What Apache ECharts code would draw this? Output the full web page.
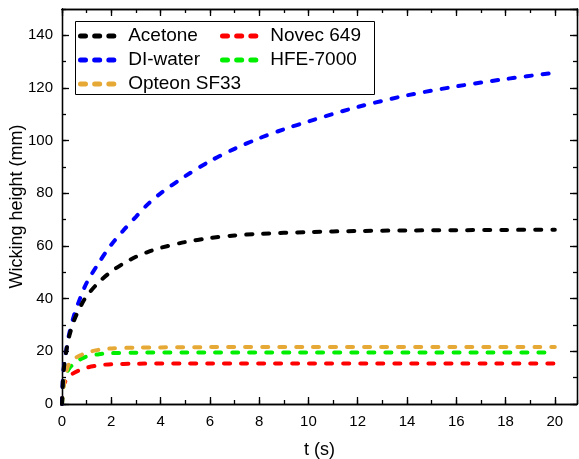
<!DOCTYPE html>
<html>
<head>
<meta charset="utf-8">
<script src="https://cdn.jsdelivr.net/npm/echarts@6/dist/echarts.min.js"></script>
<style>html,body{margin:0;padding:0;background:#fff;}#c{width:579px;height:459px;}</style>
</head>
<body>
<div id="c"></div>
<script>
var seriesNames = ['Acetone', 'DI-water', 'Opteon SF33', 'Novec 649', 'HFE-7000'];
var seriesColors = ['#000000', '#0000ff', '#e6a935', '#ff0000', '#00ee00'];

var acetoneT = [0, 0.05, 0.1, 0.2, 0.3, 0.5, 0.75, 1, 1.5, 2, 2.5, 3, 3.5, 4, 5, 6, 7, 8, 10, 12, 14, 16, 18, 20];
var acetoneH = [0, 11, 15.5, 21.5, 26, 32, 37, 41, 46.3, 50.3, 53.4, 55.9, 57.8, 59.3, 61.5, 63, 64, 64.6, 65.3, 65.7, 65.9, 66, 66.1, 66.2];

var waterT = [0, 0.02, 0.05, 0.1, 0.2, 0.3, 0.5, 0.75, 1, 1.5, 2, 2.5, 3, 3.5, 4, 5, 6, 7, 8, 9, 10, 12, 14, 16, 18, 20];
var waterH = [0, 7, 11.5, 16, 22, 27, 34, 40.5, 46, 53.7, 60.5, 66, 71.1, 76, 80, 86.5, 92.2, 96.9, 100.9, 104.3, 107.3, 112.8, 117.2, 120.6, 123.4, 125.8];

var opteonT = [0, 0.03, 0.08, 0.15, 0.25, 0.4, 0.6, 0.8, 1, 1.5, 2, 3, 4, 6, 10, 20];
var opteonH = [0, 4, 7.5, 11, 14.5, 16.5, 17.8, 18.7, 19.5, 20.6, 21.1, 21.4, 21.5, 21.6, 21.6, 21.6];

var novecT = [0, 0.02, 0.05, 0.1, 0.2, 0.4, 0.65, 1, 1.5, 2, 3, 5, 20];
var novecH = [0, 5, 7, 8, 9.5, 11.3, 12.6, 13.8, 14.7, 15.1, 15.3, 15.4, 15.4];

var hfeT = [0, 0.05, 0.1, 0.2, 0.3, 0.5, 0.75, 1, 1.5, 2, 3, 5, 20];
var hfeH = [0, 6, 9, 12, 13.6, 15.5, 17, 18, 18.9, 19.3, 19.5, 19.6, 19.6];

var xTickLabels = ['0', '2', '4', '6', '8', '10', '12', '14', '16', '18', '20'];
var yTickLabels = ['0', '20', '40', '60', '80', '100', '120', '140'];

function pairs(t, h) { return t.map(function (v, i) { return [v, h[i]]; }); }
var allData = [pairs(acetoneT, acetoneH), pairs(waterT, waterH), pairs(opteonT, opteonH), pairs(novecT, novecH), pairs(hfeT, hfeH)];

var FONT = 'Liberation Sans, Arial, sans-serif';
var chart = echarts.init(document.getElementById('c'), null, { renderer: 'canvas' });

function xFmt(v) { var s = String(Math.round(v * 1000) / 1000); return xTickLabels.indexOf(s) >= 0 ? s : ''; }
function yFmt(v) { var s = String(Math.round(v * 1000) / 1000); return yTickLabels.indexOf(s) >= 0 ? s : ''; }

var axisLine = { show: true, onZero: false, lineStyle: { color: '#000', width: 1.3 } };
var dashIcon = 'path://M3,0 H9 A3,3 0 0 1 9,6 H3 A3,3 0 0 1 3,0 Z M20,0 H26 A3,3 0 0 1 26,6 H20 A3,3 0 0 1 20,0 Z M37,0 H43 A3,3 0 0 1 43,6 H37 A3,3 0 0 1 37,0 Z';

function minorAxis(pos, max, interval) {
  return { type: 'value', min: 0, max: max, interval: interval, position: pos,
    axisLine: axisLine,
    axisTick: { show: true, inside: true, length: 4, lineStyle: { color: '#000', width: 1.3 } },
    axisLabel: { show: false }, splitLine: { show: false } };
}
function majorAxis(pos, max, interval) {
  return { type: 'value', min: 0, max: max, interval: interval, position: pos,
    axisLine: axisLine,
    axisTick: { show: true, inside: true, length: 7, lineStyle: { color: '#000', width: 1.3 } },
    axisLabel: { show: false }, splitLine: { show: false } };
}

var option = {
  animation: false,
  backgroundColor: '#fff',
  grid: { left: 62, right: 2, top: 9, bottom: 55, containLabel: false, outerBoundsMode: 'none' },
  xAxis: [
    { type: 'value', min: 0, max: 20.9, interval: 2, position: 'bottom',
      name: 't (s)', nameLocation: 'middle', nameGap: 37, nameMoveOverlap: false,
      nameTextStyle: { fontFamily: FONT, fontSize: 18, color: '#000' },
      axisLine: axisLine,
      axisTick: { show: true, inside: true, length: 7, lineStyle: { color: '#000', width: 1.3 } },
      axisLabel: { fontFamily: FONT, fontSize: 15, color: '#000', margin: 10, formatter: xFmt, showMaxLabel: false },
      splitLine: { show: false } },
    minorAxis('bottom', 20.9, 1),
    majorAxis('top', 20.9, 2),
    minorAxis('top', 20.9, 1)
  ],
  yAxis: [
    { type: 'value', min: 0, max: 150, interval: 20, position: 'left',
      name: 'Wicking height (mm)', nameLocation: 'middle', nameGap: 36, nameRotate: 90, nameMoveOverlap: false,
      nameTextStyle: { fontFamily: FONT, fontSize: 18, color: '#000' },
      axisLine: axisLine,
      axisTick: { show: true, inside: true, length: 7, lineStyle: { color: '#000', width: 1.3 } },
      axisLabel: { fontFamily: FONT, fontSize: 15, color: '#000', margin: 9, formatter: yFmt, showMaxLabel: false },
      splitLine: { show: false } },
    minorAxis('left', 150, 10),
    majorAxis('right', 150, 20),
    minorAxis('right', 150, 10)
  ],
  legend: [
    { data: [{ name: 'Acetone', icon: dashIcon }, { name: 'DI-water', icon: dashIcon }, { name: 'Opteon SF33', icon: dashIcon }],
      orient: 'vertical', left: 78, top: 24,
      itemWidth: 46, itemHeight: 5, itemGap: 0, padding: 0,
      textStyle: { fontFamily: FONT, fontSize: 19, color: '#000', lineHeight: 24, padding: [0, 0, 0, 3] } },
    { data: [{ name: 'Novec 649', icon: dashIcon }, { name: 'HFE-7000', icon: dashIcon }],
      orient: 'vertical', left: 220, top: 24,
      itemWidth: 46, itemHeight: 5, itemGap: 0, padding: 0,
      textStyle: { fontFamily: FONT, fontSize: 19, color: '#000', lineHeight: 24, padding: [0, 0, 0, 3] } }
  ],
  graphic: [
    { type: 'rect', left: 75, top: 21, shape: { width: 299, height: 73 },
      style: { fill: 'rgba(0,0,0,0)', stroke: '#000', lineWidth: 1 }, z: 100 }
  ],
  series: seriesNames.map(function (n, i) {
    return {
      name: n, type: 'line', data: allData[i], smooth: 0.3, showSymbol: false, symbol: 'none',
      xAxisIndex: 0, yAxisIndex: 0, clip: true,
      color: seriesColors[i],
      lineStyle: { color: seriesColors[i], width: 4, type: [6, 11], cap: 'round' },
      z: 10 - i
    };
  })
};
chart.setOption(option);
</script>
</body>
</html>
